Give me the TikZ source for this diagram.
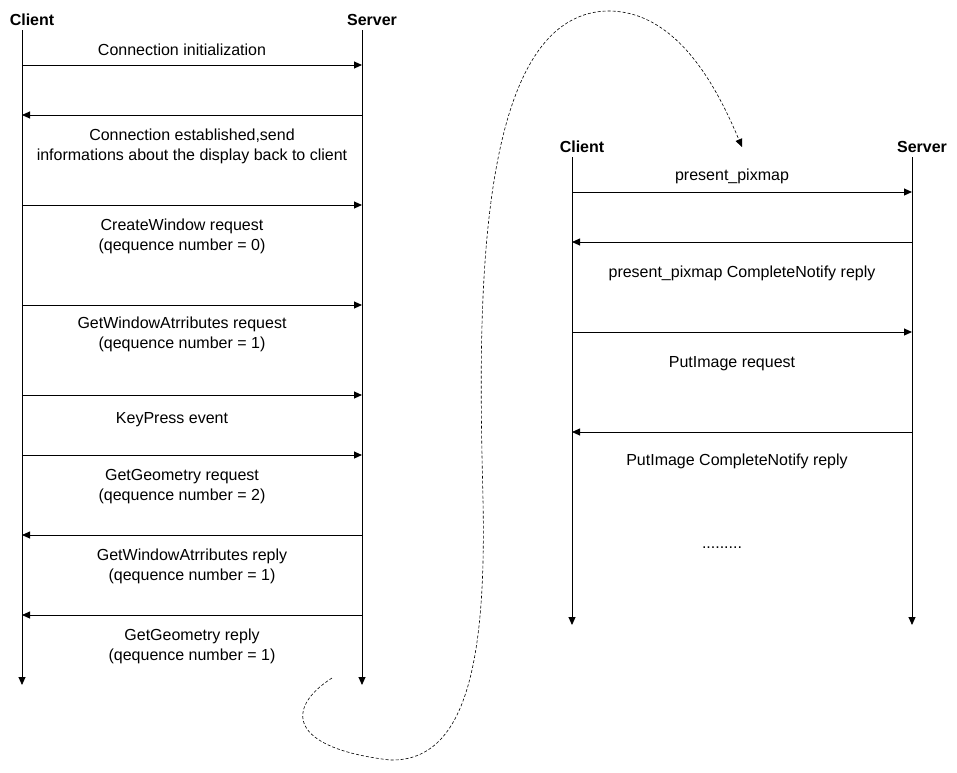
\documentclass[tikz,border=0pt]{standalone}
\usepackage{fontspec}
\setmainfont{Liberation Sans}
\usetikzlibrary{arrows.meta}
\begin{document}
\begin{tikzpicture}[x=1pt,y=-1pt,
  lbl/.style={font=\fontsize{16}{20}\selectfont, align=center, inner sep=0pt, yshift=-1.5pt},
  head/.style={font=\bfseries\fontsize{16}{18}\selectfont, inner sep=0pt, yshift=-1pt},
  tipstyle/.style={-{Triangle[length=8pt,width=7pt]}},
  life/.style={line width=0.9pt, tipstyle},
  msg/.style={line width=0.9pt, tipstyle},
  flow/.style={line width=0.6pt, dash pattern=on 3pt off 2pt, tipstyle}]
\useasboundingbox (0,0) rectangle (957,772);
% ---------- left sequence ----------
\node[head] (c1) at (32,19) {Client};
\node[head] (s1) at (372,19) {Server};
\coordinate (c1top) at (22,30);  \coordinate (c1bot) at (22,685);
\coordinate (s1top) at (362,30); \coordinate (s1bot) at (362,685);
\draw[life] (c1top) -- (c1bot);
\draw[life] (s1top) -- (s1bot);
\foreach \y [count=\i] in {65,115,205,305,395,455,535,615} {
  \coordinate (La\i) at (22,\y);
  \coordinate (Ra\i) at (362,\y);
}
\draw[msg] (La1) -- (Ra1);
\draw[msg] (Ra2) -- (La2);
\draw[msg] (La3) -- (Ra3);
\draw[msg] (La4) -- (Ra4);
\draw[msg] (La5) -- (Ra5);
\draw[msg] (La6) -- (Ra6);
\draw[msg] (Ra7) -- (La7);
\draw[msg] (Ra8) -- (La8);
\node[lbl] (t1) at (182,48) {Connection initialization};
\node[lbl] (t2) at (192,145) {Connection established,send\\informations about the display back to client};
\node[lbl] (t3) at (182,235) {CreateWindow request\\(qequence number = 0)};
\node[lbl] (t4) at (182,333) {GetWindowAtrributes request\\(qequence number = 1)};
\node[lbl] (t5) at (172,418) {KeyPress event};
\node[lbl] (t6) at (182,485) {GetGeometry request\\(qequence number = 2)};
\node[lbl] (t7) at (192,565) {GetWindowAtrributes reply\\(qequence number = 1)};
\node[lbl] (t8) at (192,645) {GetGeometry reply\\(qequence number = 1)};
% ---------- right sequence ----------
\node[head] (c2) at (582,146) {Client};
\node[head] (s2) at (922,146) {Server};
\coordinate (c2top) at (572,157);  \coordinate (c2bot) at (572,625);
\coordinate (s2top) at (912,157);  \coordinate (s2bot) at (912,625);
\draw[life] (c2top) -- (c2bot);
\draw[life] (s2top) -- (s2bot);
\foreach \y [count=\i] in {192,242,332,432} {
  \coordinate (Lb\i) at (572,\y);
  \coordinate (Rb\i) at (912,\y);
}
\draw[msg] (Lb1) -- (Rb1);
\draw[msg] (Rb2) -- (Lb2);
\draw[msg] (Lb3) -- (Rb3);
\draw[msg] (Rb4) -- (Lb4);
\node[lbl] (u1) at (732,175) {present\_pixmap};
\node[lbl] (u2) at (742,272) {present\_pixmap CompleteNotify reply};
\node[lbl] (u3) at (732,362) {PutImage request};
\node[lbl] (u4) at (737,460) {PutImage CompleteNotify reply};
\node[lbl] (u5) at (722,546) {.........};
% ---------- continuation curve ----------
\coordinate (fs) at (332,678);
\coordinate (fe) at (742,147);
\draw[flow] (fs) .. controls (285,708) and (288,748) .. (390,760)
  .. controls (470,762) and (486,650) .. (483,500)
  .. controls (479,330) and (470,15) .. (607,11)
  .. controls (680,10) and (720,95) .. (fe);
\end{tikzpicture}
\end{document}
